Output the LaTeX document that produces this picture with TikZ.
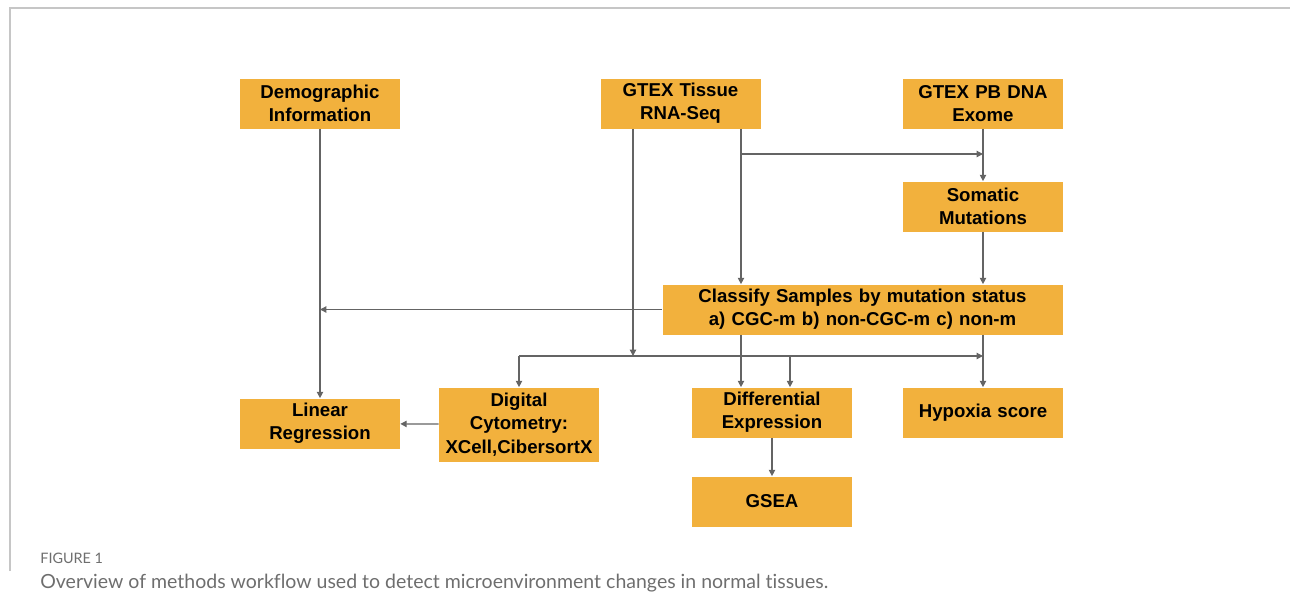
\documentclass[tikz,border=0pt]{standalone}
\usepackage{fontspec}
\setmainfont{Liberation Sans}
\newfontfamily\capfont[Ligatures={NoCommon,NoContextual}]{Lato}
\usetikzlibrary{arrows.meta,positioning}
\definecolor{boxorange}{HTML}{F2B13D}
\definecolor{linegray}{HTML}{646464}
\definecolor{capgray}{HTML}{6E6E6E}
\tikzset{
    box/.style={fill=boxorange, draw=none, minimum width=3.2cm, minimum height=1cm,
        text width=3.2cm, align=center, inner sep=0pt,
        font=\bfseries\fontsize{10.6pt}{13.2pt}\selectfont},
    arr/.style={draw=linegray, line width=0.7pt, -{Triangle[length=3.6pt,width=3.6pt]}},
    lin/.style={draw=linegray, line width=0.7pt}
}
\begin{document}
\begin{tikzpicture}[x=0.2mm, y=-0.2mm]
    \useasboundingbox (0,0) rectangle (1290,615);
    \draw[gray!45, line width=0.8pt] (10,571) -- (10,8) -- (1290,8);

    \node[box] (demo) at (320,103.5) {Demographic\\Information};
    \node[box] (rnaseq) at (680.5,103.5) {GTEX Tissue\\RNA-Seq};
    \node[box] (exome) at (983,103.5) {GTEX PB DNA\\Exome};
    \node[box] (somatic) at (983,206.5) {Somatic\\Mutations};
    \node[box, minimum width=8cm, text width=8cm] (classify) at (862.5,309.5)
        {Classify Samples by mutation status\\a) CGC-m b) non-CGC-m c) non-m};
    \node[box] (linreg) at (320,423.5) {Linear\\Regression};
    \node[box, minimum height=1.48cm] (cyto) at (519,424.5) {Digital\\Cytometry:\\XCell,CibersortX};
    \node[box] (diffex) at (772,412.5) {Differential\\Expression};
    \node[box] (hypox) at (983,412.5) {Hypoxia score};
    \node[box] (gsea) at (772,501.5) {GSEA};

    \coordinate (split) at (633,356);
    \coordinate (rx) at (741,154);
    \coordinate (dx) at (790,356);

    \draw[arr] (demo) -- (linreg);
    \draw[arr] (classify.west) -- (classify.west -| demo.south);
    \draw[arr] (rnaseq.south -| split) -- (split);
    \draw[arr] (cyto.north |- split) -- (split -| hypox.north);
    \draw[arr] (cyto.north |- split) -- (cyto.north);
    \draw[arr] (dx) -- (diffex.north -| dx);
    \draw[lin] (rnaseq.south -| rx) -- (rx);
    \draw[arr] (rx) -- (classify.north -| rx);
    \draw[arr] (rx) -- (rx -| exome.south);
    \draw[arr] (exome) -- (somatic);
    \draw[arr] (somatic) -- (classify.north -| somatic);
    \draw[arr] (classify.south -| rx) -- (diffex.north -| rx);
    \draw[arr] (classify.south -| hypox) -- (hypox);
    \draw[arr] (cyto) -- (linreg);
    \draw[arr] (diffex) -- (gsea);

    \node[anchor=base west, inner sep=0pt, text=capgray, font=\capfont\fontsize{8.2pt}{9pt}\selectfont]
        (fig) at (40,563) {FIGURE 1};
    \node[anchor=base west, inner sep=0pt, text=capgray, font=\capfont\fontsize{11.1pt}{13pt}\selectfont]
        (cap) at (40,588) {Overview of methods workflow used to detect microenvironment changes in normal tissues.};
\end{tikzpicture}
\end{document}
